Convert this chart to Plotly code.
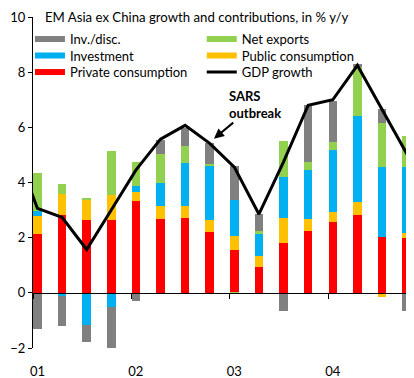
import plotly.graph_objects as go

# ---------------- data ----------------
years = [2001, 2001, 2001, 2001, 2002, 2002, 2002, 2002,
         2003, 2003, 2003, 2003, 2004, 2004, 2004, 2004]
quarters = [1, 2, 3, 4, 1, 2, 3, 4, 1, 2, 3, 4, 1, 2, 3, 4]

private_consumption = [2.15, 2.84, 2.64, 2.64, 3.32, 2.67, 2.71, 2.20,
                       1.55, 0.93, 1.80, 2.24, 2.56, 2.82, 2.04, 1.98]
public_consumption = [0.63, 0.74, 0.75, 0.91, 0.33, 0.47, 0.45, 0.45,
                      0.51, 0.40, 0.92, 0.42, 0.36, 0.47, -0.16, 0.18]
investment = [0.19, -0.12, -1.16, -0.52, 0.22, 0.84, 1.54, 1.96,
              1.31, 0.81, 1.48, 1.79, 2.27, 3.12, 2.51, 2.39]
net_exports = [1.37, 0.36, 0.03, 1.60, 0.87, 1.05, 0.62, 0.05,
               -0.03, 0.10, 1.29, 0.29, 0.27, 1.78, 1.60, 1.15]
inv_disc = [-1.32, -1.09, -0.62, -1.50, -0.29, 0.52, 0.66, 0.79,
            1.22, 0.63, -0.66, 2.08, 1.51, 0.12, 0.52, -0.65]

# GDP growth line (includes the neighbouring quarters 2000Q4 and 2005Q1,
# which run off the plot edges)
gdp_years = [2000] + years + [2005]
gdp_quarters = [4] + quarters + [1]
gdp_growth = [5.45, 3.06, 2.74, 1.57, 3.00, 4.45, 5.57, 6.07, 5.42,
              4.56, 2.85, 4.75, 6.80, 7.00, 8.25, 6.65, 5.05, 5.60]

year_labels = ["01", "02", "03", "04"]
label_years = [2001, 2002, 2003, 2004]

title = "EM Asia ex China growth and contributions, in % y/y"

# ---------------- styling ----------------
FONT = "Lato"
C_GRAY = "#808080"
C_GREEN = "#92D050"
C_BLUE = "#00B0F0"
C_ORANGE = "#FFC000"
C_RED = "#FF0000"


def xpos(y, q):
    return y + (q - 1) / 4 + 0.045


x = [xpos(y, q) for y, q in zip(years, quarters)]
xg = [xpos(y, q) for y, q in zip(gdp_years, gdp_quarters)]

fig = go.Figure()

series = [
    ("Private consumption", private_consumption, C_RED),
    ("Public consumption", public_consumption, C_ORANGE),
    ("Investment", investment, C_BLUE),
    ("Net exports", net_exports, C_GREEN),
    ("Inv./disc.", inv_disc, C_GRAY),
]
for name, vals, col in series:
    fig.add_trace(go.Bar(x=x, y=vals, name=name,
                         marker=dict(color=col, line=dict(width=0)),
                         width=0.087, showlegend=False))

fig.add_trace(go.Scatter(x=xg, y=gdp_growth, mode="lines", name="GDP growth",
                         line=dict(color="black", width=3), showlegend=False,
                         xaxis="x2"))

# legend entries laid out in a 2-column grid (one small legend per entry)
legend_items = [
    ("Inv./disc.", C_GRAY, 6),
    ("Net exports", C_GREEN, 6),
    ("Investment", C_BLUE, 6),
    ("Public consumption", C_ORANGE, 6),
    ("Private consumption", C_RED, 6),
    ("GDP growth", "black", 3),
]
legend_layout = {}
col_x = [-0.008, 0.443]
row_y = [0.9786, 0.9287, 0.8789]
for i, (name, col, w) in enumerate(legend_items):
    key = "legend" if i == 0 else f"legend{i + 1}"
    fig.add_trace(go.Scatter(x=[None], y=[None], mode="lines", name=name,
                             line=dict(color=col, width=w), legend=key,
                             showlegend=True))
    legend_layout[key] = dict(x=col_x[i % 2], xanchor="left",
                              y=row_y[i // 2], yanchor="top",
                              bgcolor="rgba(0,0,0,0)",
                              font=dict(size=13, family=FONT),
                              itemwidth=30)

x0, x1 = 2001.0, 2004.87
fig.update_layout(
    width=406, height=370,
    margin=dict(l=25, r=0, t=9, b=30),
    paper_bgcolor="white", plot_bgcolor="white",
    barmode="relative",
    bargap=0,
    font=dict(family=FONT, size=13, color="#000000"),
    xaxis=dict(range=[x0, x1], showgrid=False, zeroline=False, showline=False,
               tickvals=[xpos(y, 1) for y in label_years], ticktext=year_labels,
               ticks="outside", ticklen=11, tickcolor="rgba(0,0,0,0)",
               tickfont=dict(size=13, family=FONT)),
    xaxis2=dict(range=[x0, x1], overlaying="x", anchor="free", position=2 / 12,
                showgrid=False, zeroline=False, showline=True, linecolor="black",
                linewidth=1, tickvals=label_years, ticks="outside", ticklen=5,
                tickcolor="black", showticklabels=False),
    yaxis=dict(range=[-2, 10], dtick=2, showgrid=False, zeroline=False,
               showline=True, linecolor="black", linewidth=1, ticks="outside",
               ticklen=4, tickcolor="black", tickfont=dict(size=13, family=FONT)),
    annotations=[
        dict(text=title, xref="paper", yref="paper", x=0.026, y=1.0,
             xanchor="left", yanchor="middle", showarrow=False,
             font=dict(size=13.2, family=FONT)),
        dict(text="<b>SARS<br>outbreak</b>", x=2002.838, y=5.59, ax=41, ay=-34,
             showarrow=True, arrowhead=2, arrowsize=1, arrowwidth=2,
             arrowcolor="black", align="left", font=dict(size=13, family=FONT)),
    ],
    **legend_layout,
)

fig.write_html("out.html")
